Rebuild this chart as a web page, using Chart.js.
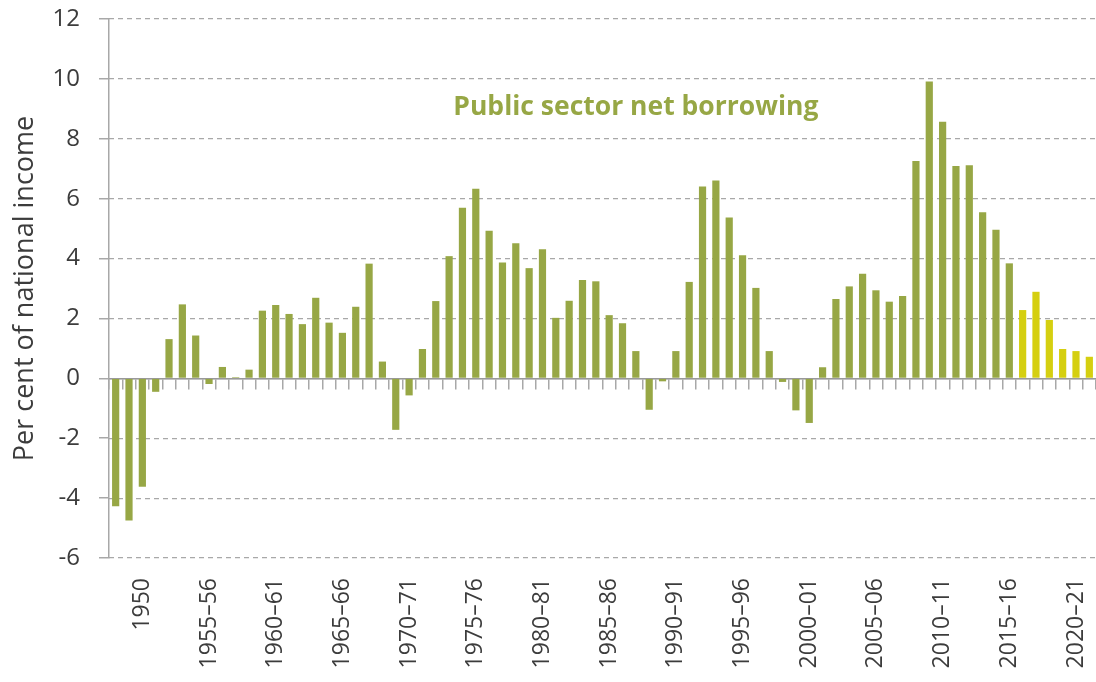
<!DOCTYPE html>
<html>
<head>
<meta charset="utf-8">
<script src="https://cdn.jsdelivr.net/npm/chart.js@4"></script>
<style>
  html, body { margin: 0; padding: 0; background: #fff; }
  #wrap { width: 1096px; height: 682px; position: relative; }
</style>
</head>
<body>
<div id="wrap"><canvas id="myChart"></canvas></div>
<script>
// categories (one bar per year)
const years = [
  '1948', '1949', '1950', '1951', '1952', '1953', '1954',
  '1955–56', '1956–57', '1957–58', '1958–59', '1959–60',
  '1960–61', '1961–62', '1962–63', '1963–64', '1964–65',
  '1965–66', '1966–67', '1967–68', '1968–69', '1969–70',
  '1970–71', '1971–72', '1972–73', '1973–74', '1974–75',
  '1975–76', '1976–77', '1977–78', '1978–79', '1979–80',
  '1980–81', '1981–82', '1982–83', '1983–84', '1984–85',
  '1985–86', '1986–87', '1987–88', '1988–89', '1989–90',
  '1990–91', '1991–92', '1992–93', '1993–94', '1994–95',
  '1995–96', '1996–97', '1997–98', '1998–99', '1999–00',
  '2000–01', '2001–02', '2002–03', '2003–04', '2004–05',
  '2005–06', '2006–07', '2007–08', '2008–09', '2009–10',
  '2010–11', '2011–12', '2012–13', '2013–14', '2014–15',
  '2015–16', '2016–17', '2017–18', '2018–19', '2019–20',
  '2020–21', '2021–22'
];

// public sector net borrowing, per cent of national income
const borrowing = [
  -4.27, -4.75, -3.62, -0.45, 1.31, 2.47, 1.43,
  -0.19, 0.38, 0.04, 0.29, 2.26,
  2.45, 2.15, 1.81, 2.69, 1.86,
  1.52, 2.39, 3.83, 0.56, -1.72,
  -0.57, 0.98, 2.58, 4.08, 5.70,
  6.33, 4.93, 3.87, 4.51, 3.68,
  4.31, 2.02, 2.59, 3.28, 3.24,
  2.11, 1.84, 0.91, -1.05, -0.10,
  0.91, 3.22, 6.41, 6.61, 5.37,
  4.11, 3.02, 0.91, -0.12, -1.07,
  -1.49, 0.37, 2.65, 3.07, 3.49,
  2.94, 2.56, 2.75, 7.26, 9.91,
  8.57, 7.09, 7.12, 5.55, 4.96,
  3.84, 2.28, 2.89, 1.95, 0.98,
  0.91, 0.72
];

// first forecast year (drawn in yellow)
const firstForecast = '2016–17';

const yTicks = { min: -6, max: 12, step: 2 };

const seriesName = 'Public sector net borrowing';
const labelAt = { category: '1987–88', value: 9.05 };

const green = '#97A745';
const yellow = '#D5CF10';
const textColor = '#3c3c3c';
const gridColor = '#a8a8a8';

Chart.defaults.font.family = "'Open Sans', 'Noto Sans', sans-serif";
Chart.defaults.color = textColor;

const forecastIndex = years.indexOf(firstForecast);
const barColors = years.map((y, i) => i >= forecastIndex ? yellow : green);

// draws the series name inside the plot
const seriesLabel = {
  id: 'seriesLabel',
  afterDatasetsDraw(chart) {
    const { ctx, scales } = chart;
    ctx.save();
    ctx.font = "bold 26.5px 'Open Sans', sans-serif";
    ctx.fillStyle = green;
    ctx.textAlign = 'center';
    ctx.textBaseline = 'middle';
    ctx.fillText(seriesName,
      scales.x.getPixelForValue(years.indexOf(labelAt.category)),
      scales.y.getPixelForValue(labelAt.value));
    ctx.restore();
  }
};

const data = {
  labels: years,
  datasets: [{
    label: seriesName,
    data: borrowing,
    backgroundColor: barColors,
    borderWidth: 0,
    barPercentage: 1,
    categoryPercentage: 0.54
  }]
};

const config = {
  type: 'bar',
  data,
  plugins: [seriesLabel],
  options: {
    responsive: true,
    maintainAspectRatio: false,
    animation: false,
    layout: { padding: { top: 19, right: 0, bottom: 4, left: 0 } },
    plugins: {
      legend: { display: false },
      tooltip: { enabled: false }
    },
    scales: {
      x: {
        position: 'bottom',
        offset: true,
        grid: { display: false, drawTicks: false },
        border: { display: false },
        ticks: {
          autoSkip: false,
          minRotation: 90,
          maxRotation: 90,
          padding: 20,
          font: { size: 23 },
          color: textColor,
          callback: function (value, index) {
            return index % 5 === 2 ? this.getLabelForValue(value) : '';
          }
        },
        afterFit: (scale) => {
          scale.paddingLeft = 0;
          scale.paddingRight = 0;
          scale.height = 120;
        }
      },
      // zero line with its tick marks
      x2: {
        type: 'category',
        position: { y: 0 },
        offset: true,
        grid: {
          offset: true,
          drawOnChartArea: false,
          drawTicks: true,
          tickLength: 10,
          color: gridColor,
          lineWidth: 1.5
        },
        border: { display: true, color: '#999', width: 1.5 },
        ticks: { display: false },
        afterFit: (scale) => {
          scale.paddingTop = 0;
          scale.paddingBottom = 0;
          scale.paddingLeft = 0;
          scale.paddingRight = 0;
        }
      },
      // value axis: labels, title and dashed grid lines
      y: {
        min: yTicks.min,
        max: yTicks.max,
        weight: 1,
        ticks: {
          stepSize: yTicks.step,
          padding: 19,
          font: { size: 24 },
          color: textColor
        },
        grid: {
          color: gridColor,
          lineWidth: 1.2,
          drawTicks: false,
          tickLength: 0
        },
        border: {
          display: false,
          dash: (ctx) => (ctx.tick && ctx.tick.value === 0) ? [] : [5, 4]
        },
        title: {
          display: true,
          text: 'Per cent of national income',
          font: { size: 27 },
          color: textColor,
          padding: { top: 9, bottom: 8 }
        },
        afterFit: (scale) => {
          scale.width = 99;
          scale.paddingTop = 0;
          scale.paddingBottom = 0;
        }
      },
      // solid axis line and tick marks
      y2: {
        type: 'linear',
        position: 'left',
        weight: 0,
        min: yTicks.min,
        max: yTicks.max,
        ticks: { display: false, stepSize: yTicks.step },
        grid: {
          drawOnChartArea: false,
          drawTicks: true,
          tickLength: 10,
          color: gridColor,
          lineWidth: 1.5
        },
        border: { display: true, color: gridColor, width: 1.5 },
        afterFit: (scale) => {
          scale.width = 10;
          scale.paddingTop = 0;
          scale.paddingBottom = 0;
        }
      }
    }
  }
};

const myChart = new Chart(document.getElementById('myChart'), config);
</script>
</body>
</html>
